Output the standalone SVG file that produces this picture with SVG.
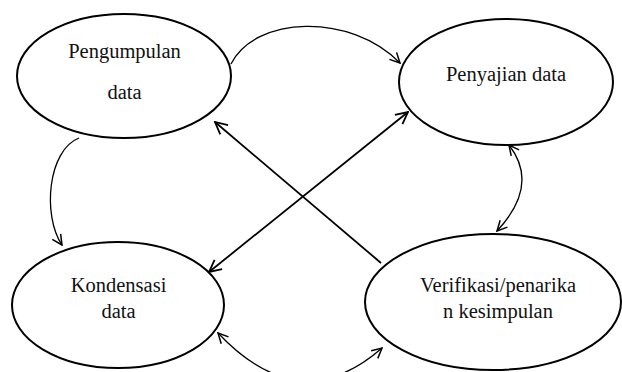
<svg xmlns="http://www.w3.org/2000/svg" width="622" height="372" viewBox="0 0 622 372">
<style>
.node ellipse{fill:#fff;stroke:#000;stroke-width:2}
.node text{font-family:'Liberation Serif','Times New Roman',Tinos,'DejaVu Serif',serif;font-size:20.5px;fill:#111;text-anchor:middle}
.conn path,.conn line{fill:none;stroke:#000}
.thin{stroke-width:1.3}
.thick{stroke-width:1.8}
</style>
<defs>
<marker id="ah" viewBox="0 0 12 12" refX="11" refY="6" markerWidth="12" markerHeight="12" markerUnits="userSpaceOnUse" orient="auto-start-reverse">
<path d="M1,1 L11,6 L1,11" fill="none" stroke="#000" stroke-width="1.5"/>
</marker>
<marker id="ahb" viewBox="0 0 14 14" refX="13" refY="7" markerWidth="14" markerHeight="14" markerUnits="userSpaceOnUse" orient="auto-start-reverse">
<path d="M1,1 L13,7 L1,13" fill="none" stroke="#000" stroke-width="1.8"/>
</marker>
</defs>
<rect width="622" height="372" fill="#fff"/>
<g id="n1" class="node">
<ellipse cx="124" cy="76" rx="107" ry="62"/>
<text x="124.5" y="58">Pengumpulan</text>
<text x="124.5" y="99">data</text>
</g>
<g id="n2" class="node">
<ellipse cx="506" cy="82" rx="107" ry="63"/>
<text x="506" y="81">Penyajian data</text>
</g>
<g id="n3" class="node">
<ellipse cx="118" cy="305" rx="106" ry="63"/>
<text x="118.5" y="292">Kondensasi</text>
<text x="118.5" y="318">data</text>
</g>
<g id="n4" class="node">
<ellipse cx="493" cy="302" rx="128" ry="68"/>
<text x="498" y="292">Verifikasi/penarika</text>
<text x="498" y="318">n kesimpulan</text>
</g>
<g id="connectors" class="conn">
<path class="thin" d="M231,64 C255,16 350,12 400,63" marker-end="url(#ah)"/>
<path class="thin" d="M79,138 C48,150 42,215 62,245" marker-end="url(#ah)"/>
<line class="thick" x1="381" y1="263" x2="215" y2="122" marker-end="url(#ahb)"/>
<line class="thick" x1="209" y1="272" x2="408" y2="112" marker-start="url(#ahb)" marker-end="url(#ahb)"/>
<path class="thin" d="M509,145 Q540,185 497,231" marker-start="url(#ah)" marker-end="url(#ah)"/>
<path class="thin" d="M218,333 Q300,420 382,348" marker-start="url(#ah)" marker-end="url(#ah)"/>
</g>
</svg>
